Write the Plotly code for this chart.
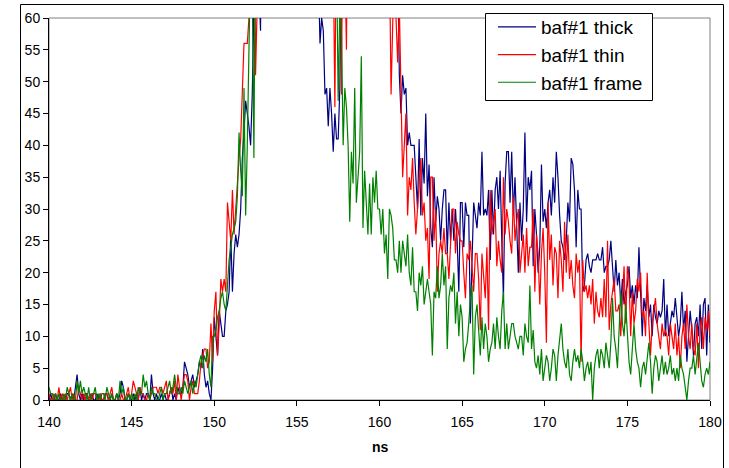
import plotly.graph_objects as go

# time axis: 140.0 .. 180.0 ns in 0.1 ns bins
t_start = 140.0
t_step = 0.1

# counts per bin (values above 60 run off the top of the chart)
thick = [
    0,1,0,0,1,0,0,1,0,0,0,1,1,0,1,0,2,4,1,0,
    1,0,1,1,0,0,1,0,0,1,0,1,0,0,1,1,0,0,1,0,
    0,1,0,1,3,2,0,0,1,0,0,1,0,1,0,2,0,1,0,1,
    1,0,4,1,0,1,0,0,1,0,1,0,0,1,2,0,1,0,2,1,
    1,2,6,5,4,2,3,4,2,3,4,6,5,8,4,2,3,1,0,5,
    13,10,7,14,12,10,10,14,15,17,26,17,23,26,24,26,30,38,42,47,
    45,43,40,48,62,80,95,66,58,90,130,160,180,190,200,210,220,230,240,250,
    250,260,270,280,290,300,300,290,280,270,260,250,240,230,220,200,180,160,140,120,
    100,90,80,70,56,60,58,48,49,43,49,45,39,45,41,41,49,70,120,150,
    180,200,220,240,250,260,270,280,290,300,300,290,280,270,260,250,240,220,200,180,
    160,150,140,130,120,110,100,95,90,85,80,70,51,45,51,48,49,40,42,40,
    40,40,35,30,41,29,38,34,45,32,37,27,24,35,28,32,30,25,30,33,
    33,23,31,25,30,25,30,25,17,31,31,24,31,29,29,12,22,31,29,27,
    31,29,39,29,30,29,33,22,33,26,33,35,30,36,25,16,34,39,39,31,
    39,29,35,27,20,31,25,30,42,28,35,33,36,21,30,26,20,24,37,28,
    30,27,31,33,29,35,31,39,35,29,25,24,22,25,31,28,38,37,33,24,
    33,30,30,17,18,22,23,21,20,22,22,22,23,22,22,24,20,21,21,22,
    25,21,17,22,18,20,15,19,15,17,18,21,16,18,15,18,16,24,18,10,
    16,14,18,13,15,10,15,13,12,14,13,14,19,10,15,10,12,14,13,16,
    13,10,12,17,11,14,6,10,14,11,7,12,13,10,15,8,15,16,7,15,
    9,
]

thin = [
    1,0,0,1,0,0,2,0,1,0,1,0,1,2,0,1,0,0,2,1,
    0,1,0,1,0,1,0,1,1,0,0,1,0,0,1,1,0,1,2,0,
    0,1,0,0,1,0,0,1,2,0,1,3,2,1,0,2,1,1,0,0,
    1,0,1,2,2,2,1,2,2,1,2,3,0,1,2,1,3,0,4,2,
    0,2,4,4,3,0,2,3,1,1,1,3,6,7,8,8,5,6,12,6,
    14,17,7,12,19,17,19,17,31,28,25,33,26,30,35,38,41,48,56,56,
    56,60,70,85,95,51,100,130,150,170,190,200,210,220,230,240,250,260,270,280,
    290,300,310,320,330,320,310,300,310,320,330,320,310,300,290,280,290,300,290,280,
    270,250,230,210,190,170,150,130,110,90,80,75,70,46,80,90,75,48,90,70,
    55,90,120,150,180,200,220,240,250,260,270,260,250,240,230,220,200,180,160,140,
    130,120,110,100,90,80,70,48,65,70,60,53,62,45,35,40,45,29,35,33,
    38,31,26,30,34,38,29,31,25,27,19,35,35,25,30,17,23,25,23,27,
    23,23,19,26,30,30,23,28,26,25,25,20,16,23,22,25,21,17,23,23,
    19,11,23,20,16,24,11,33,26,28,30,21,25,22,20,35,26,30,28,25,
    23,32,25,28,30,20,23,26,20,27,21,24,24,30,17,26,23,15,23,27,
    20,9,31,22,26,18,24,23,16,25,22,17,28,20,26,19,22,18,16,23,
    20,22,6,22,17,18,16,18,15,19,12,17,14,13,16,13,19,13,25,11,
    15,17,19,14,14,15,10,16,21,12,21,19,10,17,12,14,19,17,20,13,
    14,10,20,12,7,12,14,16,12,10,8,12,10,11,10,7,12,10,8,12,
    7,10,5,10,12,8,15,10,8,12,8,7,12,5,11,13,8,13,11,14,
    10,
]

frame = [
    2,1,1,0,1,0,1,0,0,1,0,2,1,0,1,0,0,3,1,3,
    1,2,1,0,2,0,1,1,2,0,1,0,1,1,0,2,1,0,1,0,
    0,1,0,3,1,2,0,0,1,0,1,0,1,0,2,1,1,4,2,3,
    1,0,2,1,1,0,0,1,2,0,1,1,2,3,1,2,4,2,1,1,
    2,1,3,2,1,2,3,1,3,2,4,6,7,5,7,6,8,4,2,10,
    10,11,13,14,16,17,15,14,18,22,24,26,27,28,32,42,36,32,49,29,
    40,55,70,65,38,80,100,130,150,170,190,200,210,220,230,240,250,260,270,280,
    290,300,310,300,290,300,310,300,290,300,310,300,290,280,270,260,250,240,230,220,
    210,200,190,180,170,160,150,140,120,100,90,80,75,65,70,47,62,57,40,49,
    46,40,28,39,34,49,31,35,39,54,27,36,30,26,34,26,35,31,36,30,
    30,26,30,23,26,19,30,29,27,22,22,20,25,20,25,23,21,26,20,18,
    24,17,17,14,20,18,21,15,17,19,17,15,7,17,16,21,16,18,23,18,
    21,8,16,18,17,20,12,17,10,15,13,6,8,9,12,16,18,4,13,15,
    11,7,13,8,12,10,6,8,9,12,8,13,10,8,14,17,8,12,8,10,
    12,12,10,9,8,10,10,7,12,10,9,18,8,11,6,5,7,4,8,3,
    5,7,6,3,5,8,7,3,7,10,12,8,6,5,8,4,3,6,8,6,
    7,5,8,6,3,5,6,4,6,0,5,7,8,5,8,7,5,9,7,5,
    9,16,10,8,5,12,17,12,10,15,10,6,4,9,12,8,6,5,2,5,
    6,4,7,9,6,1,5,7,6,3,5,7,4,6,4,5,7,4,5,3,
    5,3,7,5,4,2,0,3,5,5,7,4,7,9,6,3,2,4,5,4,
    6,
]

series_names = ["baf#1 thick", "baf#1 thin", "baf#1 frame"]
series_colors = ["#000080", "#FF0000", "#008000"]
x_ticks = [140, 145, 150, 155, 160, 165, 170, 175, 180]
y_ticks = [0, 5, 10, 15, 20, 25, 30, 35, 40, 45, 50, 55, 60]

FONT = "Liberation Sans, Arial, sans-serif"

fig = go.Figure()
for name, color, vals in zip(series_names, series_colors, [thick, thin, frame]):
    xs = [round(t_start + t_step * i, 1) for i in range(len(vals))]
    fig.add_trace(go.Scatter(x=xs, y=vals, mode="lines", name=name,
                             line=dict(color=color, width=1.2)))

W, H = 729, 468
L, R, T, B = 49, 19, 18, 68
pw, ph = W - L - R, H - T - B

def px_x(p):
    return (p - L) / pw

def px_y(p):
    return (H - B - p) / ph

fig.update_layout(
    width=W, height=H,
    margin=dict(l=L, r=R, t=T, b=B, autoexpand=False),
    paper_bgcolor="white", plot_bgcolor="white",
    font=dict(family=FONT, size=14, color="black"),
    xaxis=dict(range=[140, 180], tickvals=x_ticks, ticks="outside", ticklen=5,
               tickcolor="black", showline=True, linecolor="black", linewidth=1,
               showgrid=False, zeroline=False, ticklabelstandoff=4,
               tickfont=dict(size=14, color="black")),
    yaxis=dict(range=[0, 60], tickvals=y_ticks, ticks="outside", ticklen=5,
               tickcolor="black", showline=True, linecolor="black", linewidth=1,
               showgrid=False, zeroline=False, tickfont=dict(size=14, color="black")),
    legend=dict(x=px_x(493), y=px_y(8), xanchor="left", yanchor="top",
                bgcolor="rgba(0,0,0,0)", borderwidth=0, itemwidth=38,
                font=dict(size=19, color="black", family=FONT)),
    showlegend=True,
    shapes=[
        dict(type="rect", xref="paper", yref="paper", x0=0, x1=1, y0=0, y1=1,
             line=dict(color="#808080", width=1), layer="below"),
        dict(type="rect", xref="paper", yref="paper",
             x0=px_x(20.5), x1=px_x(723.5), y0=px_y(480), y1=px_y(4.5),
             line=dict(color="black", width=1), fillcolor="rgba(0,0,0,0)"),
        dict(type="rect", xref="paper", yref="paper",
             x0=px_x(485.5), x1=px_x(652.5), y0=px_y(100.5), y1=px_y(13.5),
             line=dict(color="black", width=1), fillcolor="white", layer="above"),
    ],
    annotations=[
        dict(text="<b>ns</b>", x=px_x(380), y=px_y(447), xref="paper", yref="paper",
             showarrow=False, xanchor="center", yanchor="middle",
             font=dict(size=14, color="black", family=FONT)),
    ],
)

fig.write_html("out.html")
